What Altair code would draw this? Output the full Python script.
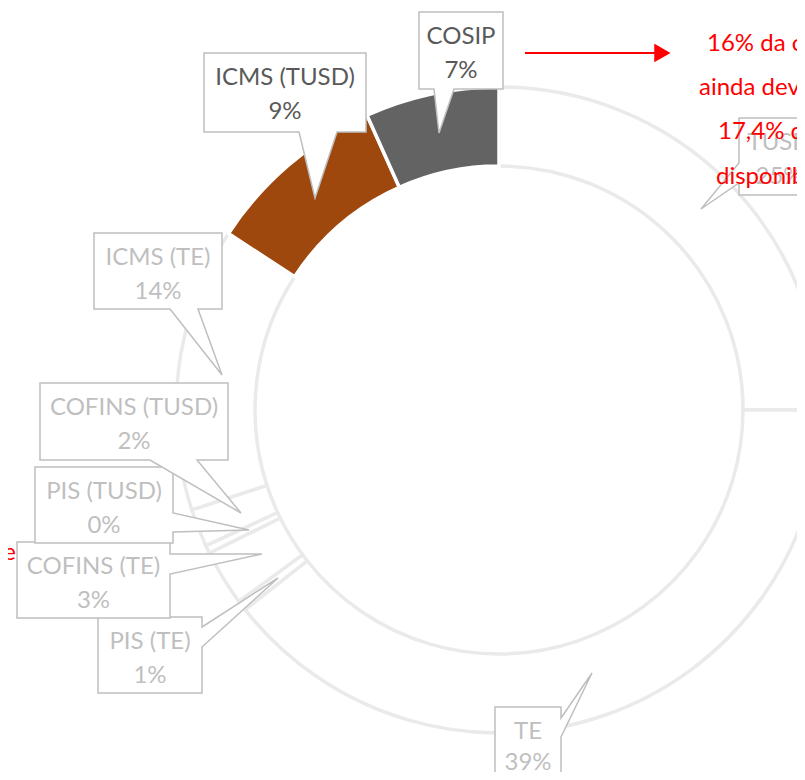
import altair as alt
import pandas as pd

# ---------------- data ----------------
categories = ["TUSD", "TE", "PIS (TE)", "COFINS (TE)", "PIS (TUSD)",
              "COFINS (TUSD)", "ICMS (TE)", "ICMS (TUSD)", "COSIP"]
shares = [25.0, 39.4, 0.5, 2.8, 0.4, 1.9, 14.2, 9.1, 6.7]
pct_labels = ["25%", "39%", "1%", "3%", "0%", "2%", "14%", "9%", "7%"]
highlighted = ["ICMS (TUSD)", "COSIP"]

note_right = ["16% da conta", "ainda deve ser", "17,4% de", "disponibilidade"]
note_left = ["os tributos somam", "do valor total da conta de"]

# ---------------- styles / layout ----------------
FONT = "Lato"
FS = 24
OFF = 8  # page margin -> plot coordinates
W, H = 789, 764
CX, CY = 499 - OFF, 410 - OFF
R_OUT, R_IN = 323, 244

fill_map = {"ICMS (TUSD)": "#9E480E", "COSIP": "#636363"}
fills = [fill_map.get(c, "#FFFFFF") for c in categories]
strokes = ["#FFFFFF" if c in highlighted else "#EAEAEA" for c in categories]

# callout geometry in page pixels: box (x0, y0, x1, y1) and outline polygon
callouts = {
    "TUSD": dict(box=(739, 118, 819, 195),
                 poly=[(739, 118), (819, 118), (819, 195), (739, 195), (739, 183), (701, 209), (739, 163)]),
    "TE": dict(box=(495, 707, 561, 790),
               poly=[(495, 707), (561, 707), (561, 718), (592, 673), (561, 737), (561, 790), (495, 790)]),
    "PIS (TE)": dict(box=(98, 617, 202, 693),
                     poly=[(98, 617), (202, 617), (202, 627), (278, 578), (202, 647), (202, 693), (98, 693)]),
    "COFINS (TE)": dict(box=(17, 542, 170, 618),
                        poly=[(17, 542), (170, 542), (170, 554), (262, 554), (170, 574), (170, 618), (17, 618)]),
    "PIS (TUSD)": dict(box=(35, 467, 173, 543),
                       poly=[(35, 467), (173, 467), (173, 513), (249, 530), (173, 532), (173, 543), (35, 543)]),
    "COFINS (TUSD)": dict(box=(40, 383, 228, 460),
                          poly=[(40, 383), (228, 383), (228, 460), (197, 460), (241, 513), (150, 460), (40, 460)]),
    "ICMS (TE)": dict(box=(94, 233, 222, 309),
                      poly=[(94, 233), (222, 233), (222, 309), (198, 309), (222, 375), (170, 309), (94, 309)]),
    "ICMS (TUSD)": dict(box=(204, 53, 366, 132),
                        poly=[(204, 53), (366, 53), (366, 132), (337, 132), (315, 198), (299, 132), (204, 132)]),
    "COSIP": dict(box=(419, 12, 503, 89),
                  poly=[(419, 12), (503, 12), (503, 89), (454, 89), (439, 133), (434, 89), (419, 89)]),
}
arrow_head = [(655, 45), (669, 53), (655, 61)]
arrow_line = (525, 656, 53)
right_note_pos = [(707, 51), (699, 95), (718, 139), (716, 184)]
left_note_pos = [(4, 522), (16, 560)]
MAX_BASELINE = 770  # keep the lowest label inside the visible page


def to_plot(pts):
    ring = [[x - OFF, y - OFF] for x, y in pts]
    ring.append(ring[0])
    return [ring]


# ---------------- donut ----------------
df = pd.DataFrame({
    "cat": categories,
    "value": shares,
    "idx": list(range(len(categories))),
})

donut = alt.Chart(df).mark_arc(
    radius=R_OUT, radius2=R_IN, x=CX, y=CY, strokeWidth=3.5
).encode(
    theta=alt.Theta("value:Q", stack=True),
    order=alt.Order("idx:Q"),
    fill=alt.Fill("cat:N", scale=alt.Scale(domain=categories, range=fills), legend=None),
    stroke=alt.Stroke("cat:N", scale=alt.Scale(domain=categories, range=strokes), legend=None),
)

# ---------------- callout shapes ----------------
features = []
for c in categories:
    features.append({
        "type": "Feature",
        "geometry": {"type": "Polygon", "coordinates": to_plot(callouts[c]["poly"])},
        "properties": {"fill": "#FFFFFF", "stroke": "#BFBFBF"},
    })
features.append({
    "type": "Feature",
    "geometry": {"type": "Polygon", "coordinates": to_plot(arrow_head)},
    "properties": {"fill": "#FF0000", "stroke": "#FF0000"},
})

shapes = alt.Chart(alt.Data(values=features)).mark_geoshape(strokeWidth=1.5).encode(
    fill=alt.Fill("properties.fill:N", scale=None),
    stroke=alt.Stroke("properties.stroke:N", scale=None),
).project(type="identity", scale=1, translate=[0, 0])

# ---------------- callout texts ----------------
rows = []
for c, p in zip(categories, pct_labels):
    x0, y0, x1, y1 = callouts[c]["box"]
    col = "#595959" if c in highlighted else "#BFBFBF"
    cx = (x0 + x1) / 2 - OFF
    rows.append({"tx": cx, "ty": y0 + 32 - OFF, "t": c, "col": col})
    rows.append({"tx": cx, "ty": min(y0 + 66, MAX_BASELINE) - OFF, "t": p, "col": col})
tdf = pd.DataFrame(rows)

texts = alt.Chart(tdf).mark_text(
    font=FONT, fontSize=FS, baseline="alphabetic", align="center"
).encode(
    x=alt.X("tx:Q", scale=None, axis=None),
    y=alt.Y("ty:Q", scale=None, axis=None),
    text="t:N",
    color=alt.Color("col:N", scale=None),
)

# ---------------- red notes ----------------
rn = pd.DataFrame({
    "tx": [p[0] - OFF for p in right_note_pos],
    "ty": [p[1] - OFF for p in right_note_pos],
    "t": note_right,
})
red_right = alt.Chart(rn).mark_text(
    font=FONT, fontSize=FS, baseline="alphabetic", align="left", color="#FF0000"
).encode(
    x=alt.X("tx:Q", scale=None, axis=None),
    y=alt.Y("ty:Q", scale=None, axis=None),
    text="t:N",
)

ln = pd.DataFrame({
    "tx": [p[0] - OFF for p in left_note_pos],
    "ty": [p[1] - OFF for p in left_note_pos],
    "t": note_left,
})
red_left = alt.Chart(ln).mark_text(
    font=FONT, fontSize=FS, baseline="alphabetic", align="right", color="#FF0000"
).encode(
    x=alt.X("tx:Q", scale=None, axis=None),
    y=alt.Y("ty:Q", scale=None, axis=None),
    text="t:N",
)

arrow = alt.Chart(pd.DataFrame({"a": [0]})).mark_rule(color="#FF0000", strokeWidth=2).encode(
    x=alt.value(arrow_line[0] - OFF),
    x2=alt.value(arrow_line[1] - OFF),
    y=alt.value(arrow_line[2] - OFF),
)

chart = alt.layer(donut, shapes, texts, arrow, red_right, red_left).properties(
    width=W, height=H, padding=0,
    autosize=alt.AutoSizeParams(type="none"),
).configure_view(strokeWidth=0)

chart.save("out.html", embed_options={"renderer": "svg", "actions": False})
